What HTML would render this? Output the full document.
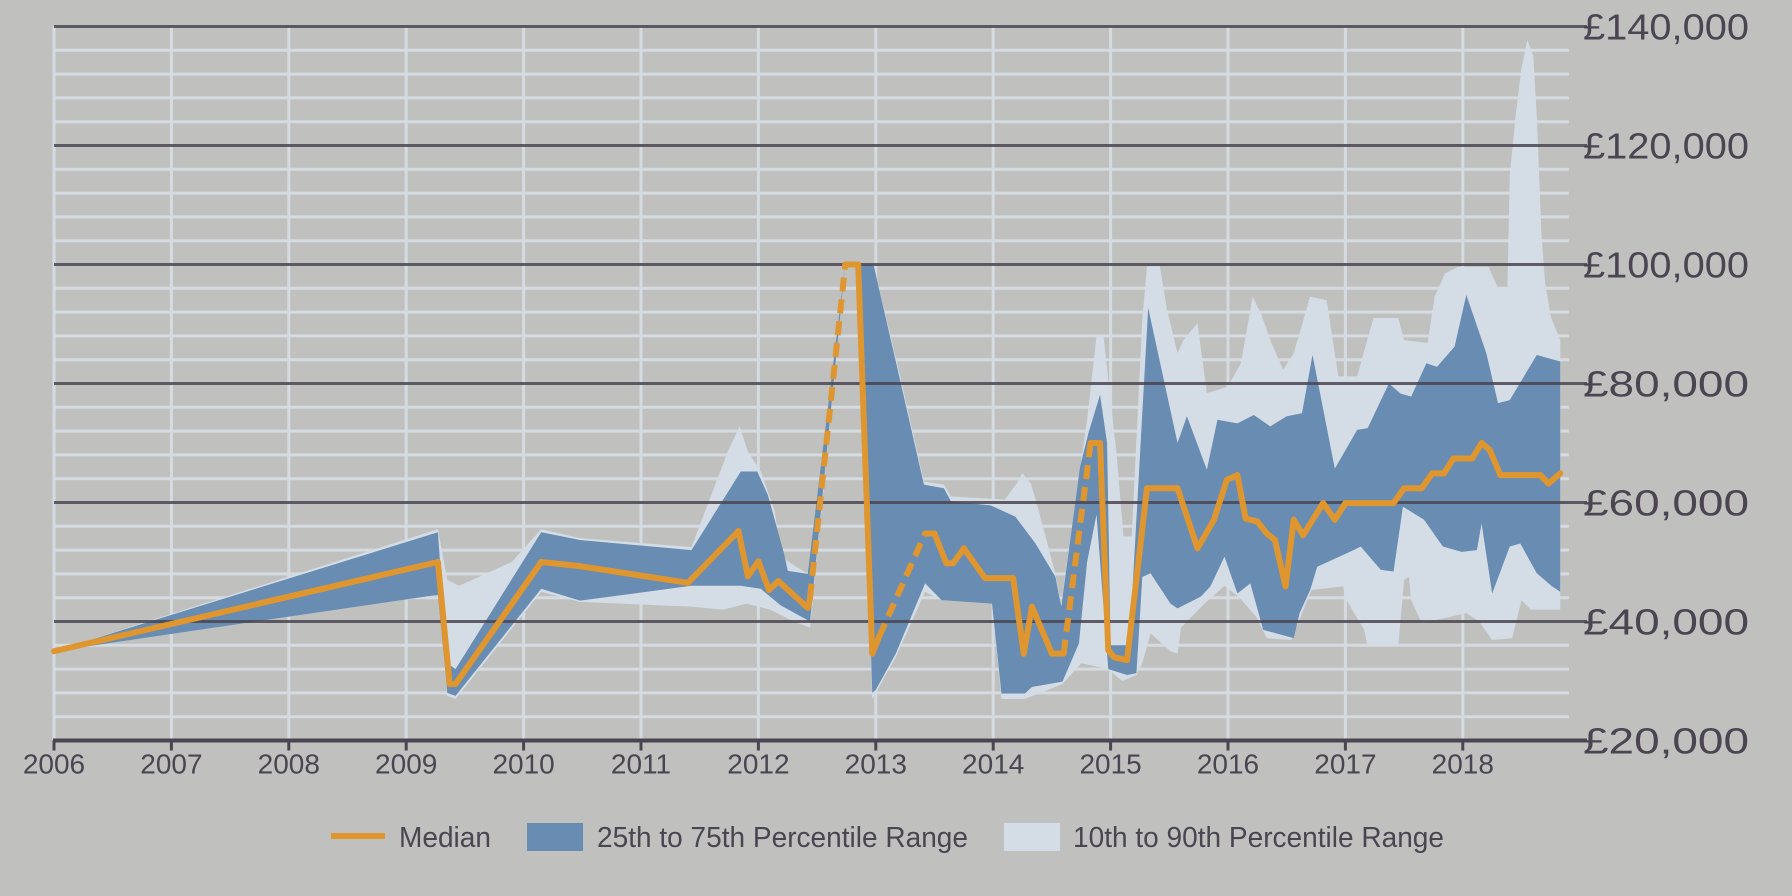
<!DOCTYPE html>
<html><head><meta charset="utf-8"><style>
html,body{margin:0;padding:0;background:#c0c1bf;}
svg{display:block;font-family:"Liberation Sans",sans-serif;}
</style></head><body>
<svg id="chart" width="1792" height="896" viewBox="0 0 1792 896" xmlns="http://www.w3.org/2000/svg">
<rect x="0" y="0" width="1792" height="896" fill="#c0c1bf"/>
<g id="grid"></g>
<g id="bands"></g>
<g id="majors"></g>
<g id="lines"></g>
<g id="axes"></g>
<g id="legend">
  <line x1="331" y1="836" x2="385" y2="836" stroke="#e0962e" stroke-width="6"/>
  <text x="399" y="847" font-size="29" fill="#4a4550" textLength="92" lengthAdjust="spacingAndGlyphs">Median</text>
  <rect x="527" y="823" width="56" height="28" fill="#688cb2"/>
  <text x="597" y="847" font-size="29" fill="#4a4550" textLength="371" lengthAdjust="spacingAndGlyphs">25th to 75th Percentile Range</text>
  <rect x="1004" y="823" width="56" height="28" fill="#d4dde6"/>
  <text x="1073" y="847" font-size="29" fill="#4a4550" textLength="371" lengthAdjust="spacingAndGlyphs">10th to 90th Percentile Range</text>
</g>
</svg>
<script>
const years = [2006,2007,2008,2009,2010,2011,2012,2013,2014,2015,2016,2017,2018];
const yTicks = [20000,40000,60000,80000,100000,120000,140000];
const yTickLabels = ['£20,000','£40,000','£60,000','£80,000','£100,000','£120,000','£140,000'];

const medT = [2006,2009.27,2009.37,2009.42,2010.15,2010.48,2011.40,2011.83,2011.91,2012.0,2012.09,2012.17,2012.42,2012.44,2012.74,2012.85,2012.97,2013.03,2013.42,2013.50,2013.60,2013.66,2013.75,2013.93,2014.17,2014.26,2014.33,2014.50,2014.60,2014.83,2014.91,2014.98,2015.03,2015.14,2015.31,2015.57,2015.74,2015.88,2015.99,2016.08,2016.15,2016.25,2016.33,2016.40,2016.49,2016.56,2016.64,2016.81,2016.91,2017.0,2017.41,2017.50,2017.65,2017.74,2017.84,2017.92,2018.08,2018.16,2018.23,2018.32,2018.66,2018.73,2018.83];
const medV = [35,50,29.5,29.5,50,49.3,46.5,55.2,47.6,50.1,45.3,46.8,42.3,44,100,100,34.6,37.5,54.8,54.8,49.8,49.8,52.3,47.3,47.3,34.6,42.5,34.6,34.6,70,70,35.2,34,33.5,62.4,62.4,52.3,57.1,63.8,64.6,57.3,56.8,54.8,53.7,45.9,57.1,54.5,59.9,57.1,59.9,59.9,62.4,62.4,64.9,64.9,67.4,67.4,70,68.8,64.6,64.6,63.2,64.9];
const dashedStarts = [2012.44,2013.03,2014.60];

const p75T = [2006,2009.27,2009.35,2009.42,2010.15,2010.48,2011.43,2011.85,2011.99,2012.08,2012.22,2012.25,2012.42,2012.74,2012.98,2013.21,2013.41,2013.58,2013.64,2013.98,2014.19,2014.36,2014.53,2014.58,2014.74,2014.81,2014.91,2014.97,2015.0,2015.16,2015.32,2015.57,2015.65,2015.82,2015.91,2016.08,2016.22,2016.36,2016.50,2016.63,2016.72,2016.91,2017.10,2017.19,2017.37,2017.47,2017.56,2017.69,2017.78,2017.93,2018.03,2018.20,2018.30,2018.40,2018.63,2018.83];
const p75V = [35,55,33,32,55,53.7,52,65.2,65.2,61.3,51.3,48.5,48,100,100,80.3,63,62.4,60.2,59.5,57.6,53.1,47.5,42.5,66,71.6,78.1,70,36,36,92.7,70,74.5,65.5,73.9,73.3,74.7,72.8,74.5,75,84.8,65.7,72.2,72.5,80,78.3,77.8,83.4,82.8,86.2,94.9,85.1,76.7,77.2,84.8,83.7];

const p25T = [2006,2009.27,2009.35,2009.42,2010.15,2010.48,2011.43,2011.85,2012.02,2012.19,2012.44,2012.74,2012.85,2012.97,2013.0,2013.17,2013.42,2013.56,2013.99,2014.07,2014.27,2014.33,2014.59,2014.73,2014.80,2014.88,2014.93,2014.98,2015.14,2015.22,2015.27,2015.34,2015.51,2015.57,2015.77,2015.85,2015.97,2016.08,2016.19,2016.30,2016.56,2016.61,2016.70,2016.76,2017.07,2017.13,2017.30,2017.41,2017.49,2017.67,2017.83,2017.99,2018.12,2018.16,2018.25,2018.40,2018.49,2018.63,2018.76,2018.83];
const p25V = [35,44.5,28,27.5,45.5,43.5,46,46,45.5,42.7,40,100,100,28,28.5,34.6,46.4,43.6,43,27.9,27.9,29,29.9,36.3,50,58,45,32,31,31.3,47.5,48.1,43,42.2,44.2,45.9,50.9,44.7,46.4,38.6,37.2,41.4,45.3,49.2,52,52.6,48.7,48.4,59.3,57.1,52.6,51.7,52,56.5,44.7,52.6,53.1,48.1,45.9,45];

const p90T = [2006,2009.27,2009.35,2009.45,2009.9,2010.15,2010.48,2011.43,2011.6,2011.74,2011.84,2011.91,2012.02,2012.14,2012.19,2012.25,2012.42,2012.74,2012.98,2013.21,2013.41,2013.58,2013.64,2014.10,2014.20,2014.25,2014.32,2014.37,2014.53,2014.58,2014.71,2014.80,2014.88,2014.94,2014.98,2015.05,2015.11,2015.18,2015.27,2015.31,2015.42,2015.48,2015.57,2015.62,2015.74,2015.82,2015.91,2016.0,2016.11,2016.21,2016.29,2016.36,2016.47,2016.56,2016.70,2016.84,2016.94,2017.10,2017.21,2017.24,2017.45,2017.50,2017.70,2017.76,2017.85,2017.96,2018.22,2018.30,2018.38,2018.40,2018.45,2018.50,2018.55,2018.60,2018.63,2018.67,2018.70,2018.75,2018.83];
const p90V = [35,55.5,47,46,50,55.5,54,52.5,61.3,68.6,72.8,68.6,65.2,58.5,51.3,50.1,48,100,100,81,63.5,63,61,60.5,63.2,64.9,63.2,59.9,48,43,61.6,73.9,87.9,87.9,80.6,68.3,54.3,54.3,90.7,99.7,99.7,92.4,85.1,87.3,90.1,78.4,78.9,79.5,83.4,94.6,91.3,87.3,82.3,85.1,94.6,94,81.2,81.2,89,91,91,87.3,86.8,94.6,98.5,99.6,99.6,96,96,115,125,133,137.7,135,125,105,97,91.2,87.3];

const p10T = [2006,2009.27,2009.35,2009.42,2010.15,2010.48,2011.43,2011.7,2011.9,2012.1,2012.3,2012.44,2012.74,2012.85,2012.97,2013.17,2013.42,2013.56,2013.99,2014.07,2014.27,2014.59,2014.75,2014.98,2015.1,2015.22,2015.27,2015.34,2015.51,2015.57,2015.6,2015.8,2015.97,2016.1,2016.24,2016.33,2016.54,2016.71,2016.98,2017.01,2017.16,2017.19,2017.45,2017.50,2017.54,2017.56,2017.65,2018.03,2018.14,2018.25,2018.42,2018.50,2018.58,2018.83];
const p10V = [35,44.5,27.5,27,45,43.3,42.5,42,43,42,40,39,100,100,27,34,45,43.6,43,27,27,29.5,33,32,30,31,33,38,35,34.6,39,43,46,44,40.8,37.2,36.9,45.3,45.9,43.6,38.6,35.8,35.8,47,47.5,43.6,39.7,41.4,40,36.9,37.2,43.6,42,42];

const NS='http://www.w3.org/2000/svg';
const X0=54, XS=117.4, Y0=26.5, PXK=5.95;
function xS(t){return X0+(t-2006)*XS;}
function yS(v){return Y0+(140-v)*PXK;}
function mk(tag,attrs,parent){const e=document.createElementNS(NS,tag);for(const k in attrs)e.setAttribute(k,attrs[k]);parent.appendChild(e);return e;}
const grid=document.getElementById('grid'),bands=document.getElementById('bands'),majors=document.getElementById('majors'),lines=document.getElementById('lines'),axes=document.getElementById('axes');

for(let v=24;v<140;v+=4){ if(v%20===0) continue;
  const l=mk('line',{x1:X0,x2:1569,y1:yS(v),y2:yS(v),stroke:'#d5dbe1','stroke-width':3},grid);
  
  
}
years.forEach(y=>{
  const l=mk('line',{x1:xS(y),x2:xS(y),y1:yS(140),y2:yS(20),stroke:'#d5dbe1','stroke-width':3},grid);
  
  
});

function band(tHi,vHi,tLo,vLo,fill,name){
  let pts=[];
  for(let i=0;i<tHi.length;i++)pts.push(xS(tHi[i])+','+yS(vHi[i]));
  for(let i=tLo.length-1;i>=0;i--)pts.push(xS(tLo[i])+','+yS(vLo[i]));
  const p=mk('polygon',{points:pts.join(' '),fill:fill},bands);
  
  
}
band(p90T,p90V,p10T,p10V,'#d4dde6','p10-p90-band');
band(p75T,p75V,p25T,p25V,'#688cb2','p25-p75-band');

yTicks.forEach((v,i)=>{
  if(v>20000){
    const l=mk('line',{x1:X0,x2:1587,y1:yS(v/1000),y2:yS(v/1000),stroke:'#4a4550','stroke-width':3,'stroke-opacity':0.85},majors);
    
    
  }
  const t=mk('text',{x:1583,y:yS(v/1000)+13,'font-size':36,fill:'#4a4550',textLength:166,lengthAdjust:'spacingAndGlyphs'},axes);
  t.textContent=yTickLabels[i];
  
  
});

for(let i=0;i<medT.length-1;i++){
  const dashed=dashedStarts.indexOf(medT[i])>=0;
  const a={x1:xS(medT[i]),y1:yS(medV[i]),x2:xS(medT[i+1]),y2:yS(medV[i+1]),stroke:'#e0962e','stroke-width':6,'stroke-linejoin':'round','stroke-linecap':'round'};
  if(dashed){a['stroke-dasharray']='14,8';a['stroke-linecap']='butt';}
  const l=mk('line',a,lines);
  
  
}

const ax=mk('line',{x1:X0-1,x2:1587,y1:yS(20),y2:yS(20),stroke:'#4a4550','stroke-width':4},axes);


years.forEach(y=>{
  const tk=mk('line',{x1:xS(y),x2:xS(y),y1:yS(20),y2:yS(20)+10,stroke:'#4a4550','stroke-width':3},axes);
  
  
  const t=mk('text',{x:xS(y),y:yS(20)+33,'font-size':28,fill:'#4a4550','text-anchor':'middle'},axes);
  t.textContent=String(y);
  
  
});
</script>
</body></html>
